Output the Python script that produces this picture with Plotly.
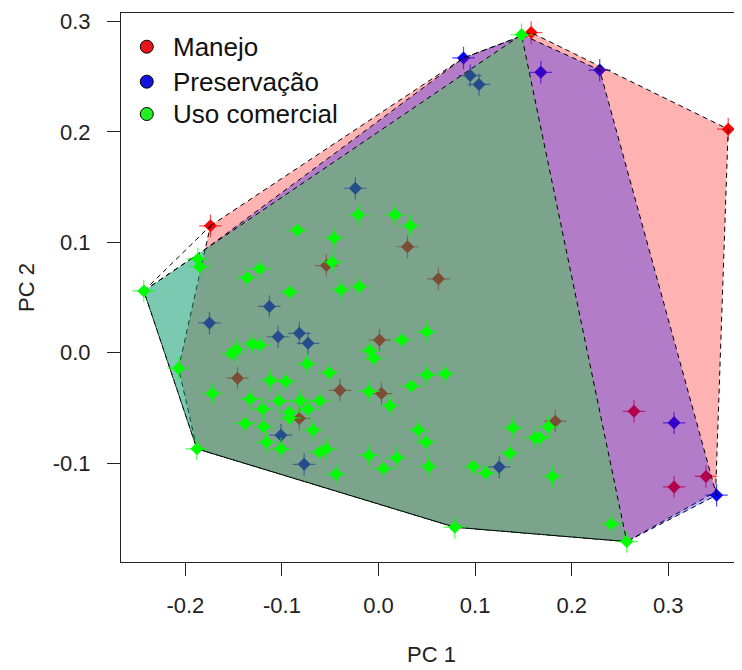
import plotly.graph_objects as go

# ---------------- data ----------------
manejo_x = [-0.174, 0.158, 0.362, 0.2645, 0.306, 0.339, 0.030, -0.054, 0.062, 0.001,
            -0.146, -0.040, 0.003, -0.082, 0.183]
manejo_y = [0.115, 0.290, 0.2025, -0.053, -0.1215, -0.112, 0.096, 0.079, 0.067, 0.0115,
            -0.023, -0.034, -0.037, -0.0595, -0.062]

preserv_x = [-0.024, -0.113, -0.175, -0.104, -0.082, -0.073, -0.101, -0.077, 0.125,
             0.088, 0.095, 0.104, 0.168, 0.229, 0.306, 0.350]
preserv_y = [0.149, 0.042, 0.027, 0.0145, 0.0176, 0.0085, -0.0746, -0.101, -0.1034,
             0.267, 0.251, 0.243, 0.254, 0.256, -0.0635, -0.129]

uso_x = [-0.243, -0.187, -0.185, -0.021, 0.017, 0.033, -0.084, -0.046, -0.048, -0.123,
         -0.136, -0.092, -0.039, -0.020, 0.024, 0.050, -0.152, -0.147, -0.131, -0.123,
         -0.207, -0.172, -0.112, -0.096, -0.074, -0.051, -0.009, -0.005, -0.010, 0.012,
         0.034, 0.050, 0.069, -0.133, -0.103, -0.081, -0.061, -0.120, -0.092, -0.073,
         -0.092, -0.138, -0.119, -0.068, -0.116, -0.101, -0.061, -0.054, -0.044, -0.010,
         0.019, 0.005, 0.052, 0.041, 0.049, 0.139, 0.136, 0.098, 0.111, 0.162,
         0.167, 0.176, 0.180, -0.188, 0.079, 0.241, 0.257, 0.148]
uso_y = [0.056, 0.085, 0.078, 0.125, 0.125, 0.115, 0.111, 0.104, 0.082, 0.076,
         0.068, 0.055, 0.057, 0.060, 0.0115, 0.019, -0.001, 0.003, 0.008, 0.007,
         -0.014, -0.037, -0.025, -0.026, -0.010, -0.018, 0.002, -0.005, -0.035, -0.048,
         -0.030, -0.020, -0.019, -0.042, -0.0435, -0.0435, -0.0435, -0.051, -0.054, -0.051,
         -0.059, -0.064, -0.067, -0.070, -0.081, -0.087, -0.090, -0.087, -0.110, -0.093,
         -0.095, -0.105, -0.103, -0.070, -0.081, -0.068, -0.091, -0.103, -0.109, -0.077,
         -0.077, -0.067, -0.112, -0.087, -0.158, -0.155, -0.171, 0.288]

# hull outlines (vertices)
hull_manejo_x = [-0.174, 0.088, 0.158, 0.362, 0.349, 0.257, 0.079, -0.188, -0.207, -0.174]
hull_manejo_y = [0.115, 0.267, 0.290, 0.2025, -0.126, -0.171, -0.158, -0.087, -0.014, 0.115]
hull_preserv_x = [-0.243, -0.1794, 0.088, 0.150, 0.229, 0.350, 0.257, 0.079, -0.188, -0.243]
hull_preserv_y = [0.056, 0.0937, 0.267, 0.2875, 0.256, -0.129, -0.171, -0.158, -0.087, 0.056]
hull_uso_x = [-0.243, 0.148, 0.257, 0.079, -0.188, -0.243]
hull_uso_y = [0.056, 0.288, -0.171, -0.158, -0.087, 0.056]
extra_edge_x = [-0.243, -0.174]
extra_edge_y = [0.056, 0.115]

x_tickvals = [-0.2, -0.1, 0.0, 0.1, 0.2, 0.3]
x_ticktext = ["-0.2", "-0.1", "0.0", "0.1", "0.2", "0.3"]
y_tickvals = [-0.1, 0.0, 0.1, 0.2, 0.3]
y_ticktext = ["-0.1", "0.0", "0.1", "0.2", "0.3"]

groups = ["Manejo", "Preservação", "Uso comercial"]
colors = ["#FF0000", "#0000FF", "#00FF00"]
legend_fill = ["#E8141C", "#1414E0", "#22EE22"]

FONT = "Liberation Sans, Arial, sans-serif"

fig = go.Figure()


def add_points(x, y, color):
    fig.add_trace(go.Scatter(x=x, y=y, mode="markers", showlegend=False, hoverinfo="skip",
                             marker=dict(symbol="cross-thin", size=16,
                                         line=dict(color=color, width=1.2), opacity=0.7)))
    fig.add_trace(go.Scatter(x=x, y=y, mode="markers", showlegend=False,
                             marker=dict(symbol="diamond", size=10, color=color,
                                         line=dict(width=0))))


def add_hull(x, y, color):
    fig.add_trace(go.Scatter(x=x, y=y, mode="lines", fill="toself", fillcolor=color,
                             line=dict(color="black", width=1, dash="5px,4px"),
                             showlegend=False, hoverinfo="skip"))


# red and blue points first (they end up beneath the shaded hulls)
add_points(manejo_x, manejo_y, colors[0])
add_points(preserv_x, preserv_y, colors[1])

add_hull(hull_manejo_x, hull_manejo_y, "rgba(255,0,0,0.3)")
add_hull(hull_preserv_x, hull_preserv_y, "rgba(0,0,255,0.3)")
add_hull(hull_uso_x, hull_uso_y, "rgba(0,255,0,0.3)")
fig.add_trace(go.Scatter(x=extra_edge_x, y=extra_edge_y, mode="lines", showlegend=False,
                         line=dict(color="black", width=1, dash="5px,4px"), hoverinfo="skip"))

# green points on top
add_points(uso_x, uso_y, colors[2])

# legend (drawn like R's legend(): circle symbol + label, no box)
legend_rows_y = [0.9386, 0.8749, 0.8160]
legend_symbol_x = 0.0415
legend_text_x = 0.0800
for name, col, ly in zip(groups, legend_fill, legend_rows_y):
    fig.add_shape(type="circle", xref="paper", yref="paper",
                  xsizemode="pixel", ysizemode="pixel",
                  xanchor=legend_symbol_x, yanchor=ly,
                  x0=-6.5, x1=6.5, y0=-6.5, y1=6.5,
                  fillcolor=col, line=dict(color="black", width=1))
    fig.add_annotation(text=name, xref="paper", yref="paper", x=legend_text_x, y=ly,
                       xanchor="left", yanchor="middle", showarrow=False,
                       font=dict(size=26, family=FONT, color="#111"))

# the page body has an 8px default margin, so the figure is 8px smaller
fig.update_layout(
    width=734, height=662,
    margin=dict(l=113, r=0, t=5, b=108),
    paper_bgcolor="white", plot_bgcolor="white",
    showlegend=False,
    font=dict(family=FONT, color="#222"),
    xaxis=dict(range=[-0.2666, 0.3763], tickvals=x_tickvals, ticktext=x_ticktext,
               showgrid=False, zeroline=False, showline=True, linecolor="#222",
               linewidth=1, mirror=True, ticks="outside", ticklen=13, tickwidth=1,
               tickcolor="#222", ticklabelstandoff=11,
               tickfont=dict(size=22, family=FONT, color="#222"),
               title=dict(text="PC 1", font=dict(size=22, family=FONT, color="#222"),
                          standoff=29),
               automargin=False),
    yaxis=dict(range=[-0.1895, 0.3077], tickvals=y_tickvals, ticktext=y_ticktext,
               showgrid=False, zeroline=False, showline=True, linecolor="#222",
               linewidth=1, ticks="outside", ticklen=13, tickwidth=1,
               tickcolor="#222", ticklabelstandoff=12,
               tickfont=dict(size=22, family=FONT, color="#222"),
               title=dict(text="PC 2", font=dict(size=22, family=FONT, color="#222"),
                          standoff=11),
               automargin=False),
)

fig.write_html("out.html")
